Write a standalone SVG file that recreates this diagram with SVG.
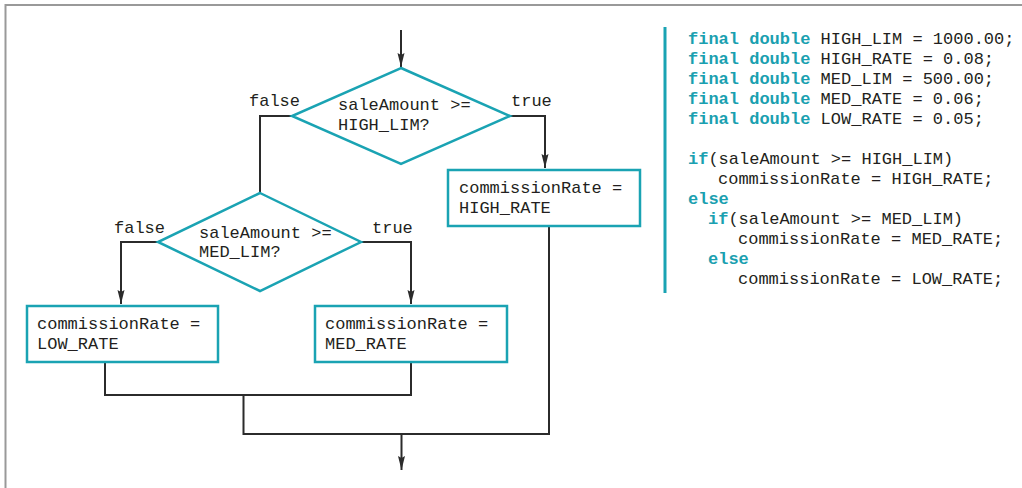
<svg xmlns="http://www.w3.org/2000/svg" width="1022" height="488" viewBox="0 0 1022 488">
<style>
.t{font-family:"Liberation Mono","DejaVu Sans Mono",monospace;font-size:17px;fill:#231f20}
.k{font-weight:bold;fill:#1aa0b0}
.shape{fill:#fff;stroke:#1aa3b3;stroke-width:2.5}
.c{fill:none;stroke:#2b2b2b;stroke-width:2}
</style>
<defs>
<marker id="ah" viewBox="0 0 14 8" refX="14" refY="4" markerWidth="14" markerHeight="8" markerUnits="userSpaceOnUse" orient="auto">
<path d="M0,0.5 L14,4 L0,7.5 L2,4 Z" fill="#2b2b2b"/>
</marker>
</defs>
<rect width="1022" height="488" fill="#fff"/>
<path d="M5.5,488 V5 H1022" fill="none" stroke="#999" stroke-width="2"/>
<g id="connectors">
<path class="c" d="M401,30 V67" marker-end="url(#ah)"/>
<path class="c" d="M510,116 H545 V168" marker-end="url(#ah)"/>
<path class="c" d="M292,116 H260 V193"/>
<path class="c" d="M158,242 H121 V304" marker-end="url(#ah)"/>
<path class="c" d="M361,242 H411 V304" marker-end="url(#ah)"/>
<path class="c" d="M105,362 V395 H411 V362"/>
<path class="c" d="M243.5,395 V434 H549 V226"/>
<path class="c" d="M401.5,434 V470" marker-end="url(#ah)"/>
</g>
<g id="labels">
<text class="t" x="249" y="106">false</text>
<text class="t" x="511" y="106">true</text>
<text class="t" x="114" y="233">false</text>
<text class="t" x="372" y="233">true</text>
</g>
<g id="d1">
<polygon class="shape" points="401,68 510,116 401,164 292,116"/>
<text class="t" x="338" y="110">saleAmount &gt;=</text>
<text class="t" x="338" y="130">HIGH_LIM?</text>
</g>
<g id="d2">
<polygon class="shape" points="260,193 361,242 260,291 158,242"/>
<text class="t" x="199" y="238">saleAmount &gt;=</text>
<text class="t" x="199" y="257">MED_LIM?</text>
</g>
<g id="high">
<rect class="shape" x="448" y="170" width="192" height="56"/>
<text class="t" x="459" y="193">commissionRate =</text>
<text class="t" x="459" y="213">HIGH_RATE</text>
</g>
<g id="low">
<rect class="shape" x="27" y="306" width="191" height="56"/>
<text class="t" x="37" y="329">commissionRate =</text>
<text class="t" x="37" y="349">LOW_RATE</text>
</g>
<g id="med">
<rect class="shape" x="315" y="306" width="192" height="56"/>
<text class="t" x="325" y="329">commissionRate =</text>
<text class="t" x="325" y="349">MED_RATE</text>
</g>
<g id="code">
<rect x="663.5" y="27" width="3" height="266" fill="#1aa3b3"/>
<text class="t" x="688" y="44"><tspan class="k">final double</tspan> HIGH_LIM = 1000.00;</text>
<text class="t" x="688" y="64"><tspan class="k">final double</tspan> HIGH_RATE = 0.08;</text>
<text class="t" x="688" y="84"><tspan class="k">final double</tspan> MED_LIM = 500.00;</text>
<text class="t" x="688" y="104"><tspan class="k">final double</tspan> MED_RATE = 0.06;</text>
<text class="t" x="688" y="124"><tspan class="k">final double</tspan> LOW_RATE = 0.05;</text>
<text class="t" x="688" y="164"><tspan class="k">if</tspan>(saleAmount &gt;= HIGH_LIM)</text>
<text class="t" x="718" y="184">commissionRate = HIGH_RATE;</text>
<text class="t" x="688" y="204"><tspan class="k">else</tspan></text>
<text class="t" x="708" y="224"><tspan class="k">if</tspan>(saleAmount &gt;= MED_LIM)</text>
<text class="t" x="738" y="244">commissionRate = MED_RATE;</text>
<text class="t" x="708" y="264"><tspan class="k">else</tspan></text>
<text class="t" x="738" y="284">commissionRate = LOW_RATE;</text>
</g>
</svg>
